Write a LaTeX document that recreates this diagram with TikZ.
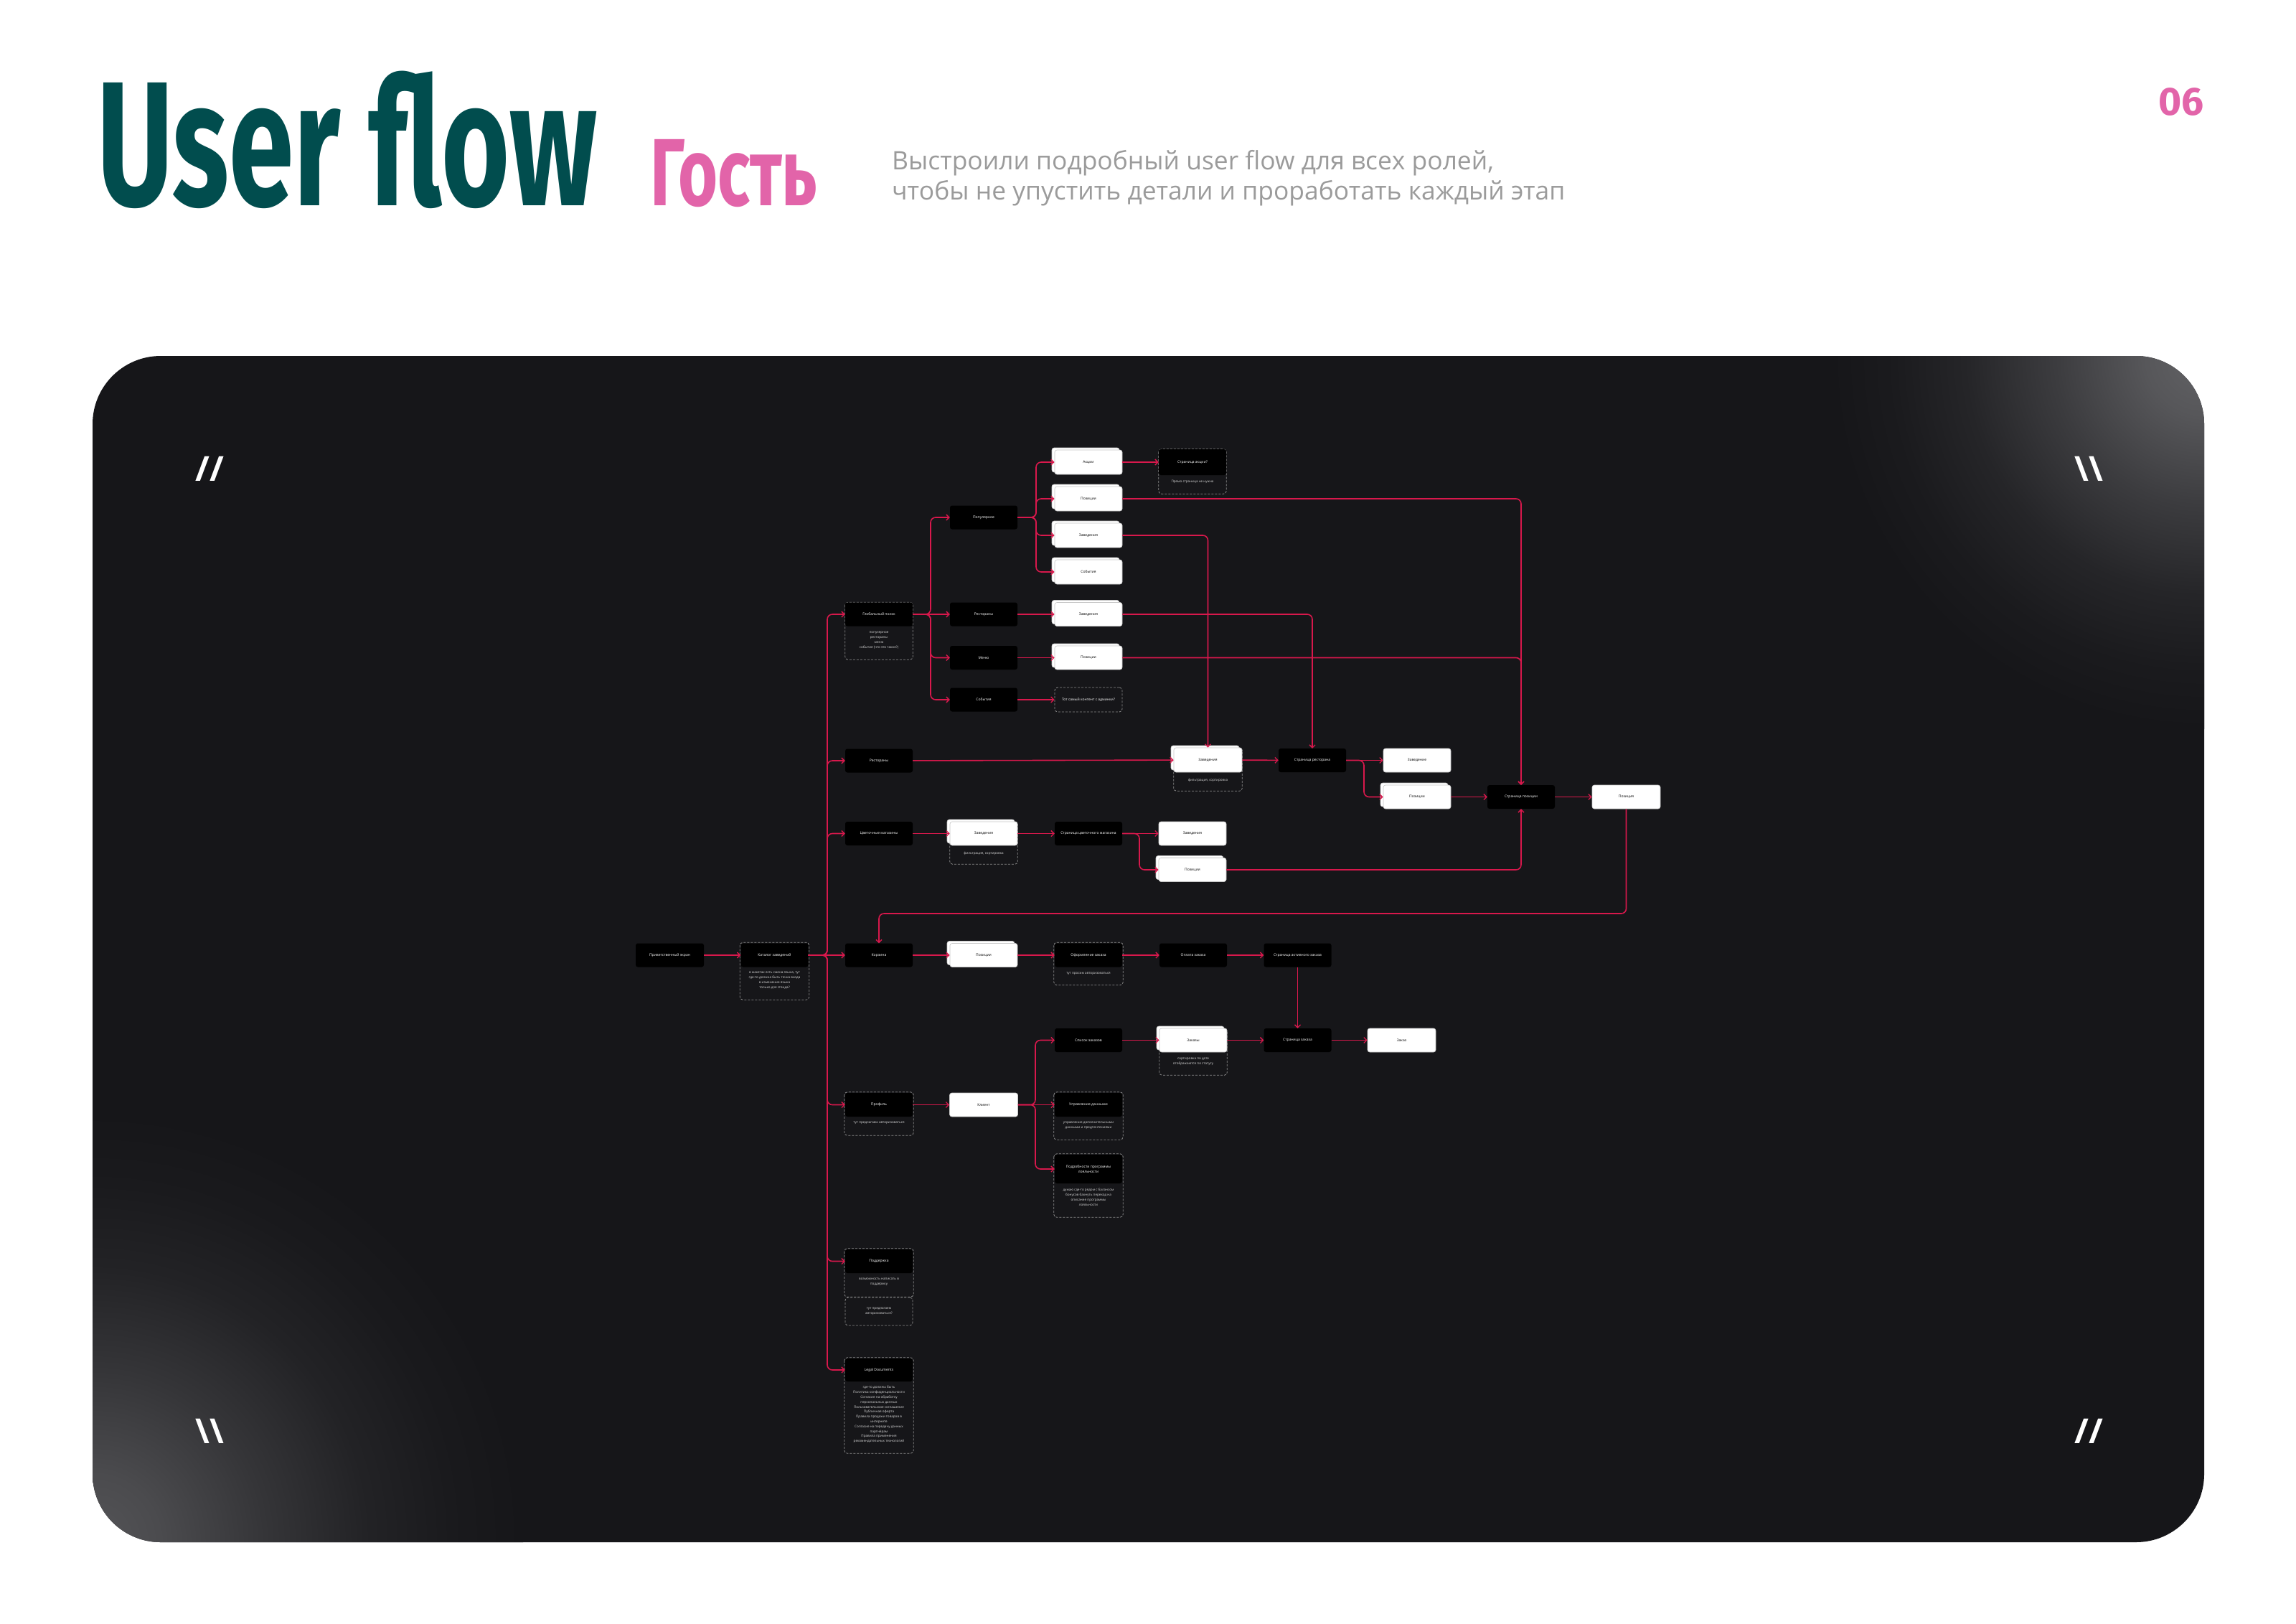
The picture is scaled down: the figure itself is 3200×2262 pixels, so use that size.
\documentclass[tikz,border=0pt]{standalone}
\usepackage{fontspec}
\setmainfont{Open Sans}
\newfontfamily\ttl{Fira Sans}
\newfontfamily\lab{Open Sans}
\usetikzlibrary{arrows.meta,shadows,calc}
\definecolor{tealc}{HTML}{014D4E}
\definecolor{pinkc}{HTML}{E264A9}
\definecolor{subc}{HTML}{9B9B9B}
\definecolor{panelc}{HTML}{161619}
\definecolor{glowc}{HTML}{626265}
\definecolor{glowd}{HTML}{545457}
\definecolor{linec}{HTML}{D8184C}
\definecolor{dashc}{HTML}{8C8C8C}
\definecolor{notec}{HTML}{DADADA}
\pgfdeclareradialshading{glowtr}{\pgfpointorigin}{color(0bp)=(glowc); color(4bp)=(glowc!85!panelc); color(10bp)=(glowc!50!panelc); color(16bp)=(glowc!20!panelc); color(21bp)=(glowc!6!panelc); color(25bp)=(panelc); color(50bp)=(panelc)}
\pgfdeclareradialshading{glowbl}{\pgfpointorigin}{color(0bp)=(glowd); color(4bp)=(glowd!85!panelc); color(10bp)=(glowd!50!panelc); color(16bp)=(glowd!20!panelc); color(21bp)=(glowd!6!panelc); color(25bp)=(panelc); color(50bp)=(panelc)}
\pgfdeclarelayer{panel}
\pgfdeclarelayer{under}
\pgfsetlayers{panel,under,main}
\begin{document}
\begin{tikzpicture}[x=1pt,y=-1pt,
  blk/.style={rectangle, rounded corners=3pt, fill=black, text=white, minimum width=94pt, minimum height=33pt, inner sep=1pt, font=\lab\fontsize{5}{7}\selectfont, align=center},
  wht/.style={blk, fill=white, text=black, draw=gray!45, line width=0.6pt},
  stk/.style={wht, general shadow={fill=white, draw=gray!45, line width=0.6pt, shadow xshift=-4pt, shadow yshift=3pt}},
  dsh/.style={draw=dashc, dash pattern=on 3pt off 2pt, line width=0.8pt, rounded corners=4pt},
  dbox/.style={blk, fill=none, dsh},
  note/.style={text=notec, font=\lab\fontsize{4.6}{7}\selectfont, align=center, inner sep=0pt, anchor=north},
  conn/.style={draw=linec, line width=1.6pt, rounded corners=7pt, -{Straight Barb[length=4pt,width=8pt,line width=1.3pt]}},
  slash/.style={text=white, font=\lab\bfseries\fontsize{48}{48}\selectfont, inner sep=0pt}
]
\useasboundingbox (0,0) rectangle (3200,2262);

% ---------- panel ----------
\begin{pgfonlayer}{panel}
\fill[white] (0,0) rectangle (3200,2262);
\fill[panelc, rounded corners=95pt] (129,496) rectangle (3072,2149);
\begin{scope}
\clip[rounded corners=95pt] (129,496) rectangle (3072,2149);
\shade[shading=glowtr] (3072,496) circle [radius=520pt];
\shade[shading=glowbl] (129,2149) circle [radius=600pt];
\end{scope}
\end{pgfonlayer}

% ---------- header ----------
\node[anchor=base west, inner sep=0pt, text=tealc, font=\ttl\bfseries\fontsize{247}{247}\selectfont] (title) at (135,286) {\scalebox{0.66}[1]{User flow}};
\node[anchor=base west, inner sep=0pt, text=pinkc, font=\ttl\bfseries\fontsize{133}{133}\selectfont] (role) at (906,286) {\scalebox{0.71}[1]{Гость}};
\node[anchor=base west, inner sep=0pt, text=subc, font=\lab\fontsize{35.4}{42}\selectfont] (sub1) at (1243,236) {Выстроили подробный user flow для всех ролей,};
\node[anchor=base west, inner sep=0pt, text=subc, font=\lab\fontsize{35.4}{42}\selectfont] (sub2) at (1243,278) {чтобы не упустить детали и проработать каждый этап};
\node[anchor=base east, inner sep=0pt, text=pinkc, font=\ttl\bfseries\fontsize{55}{55}\selectfont] (pnum) at (3072,160) {06};

\node[slash] (s1) at (292,653) {//};
\node[slash] (s2) at (2911,653) {\textbackslash\textbackslash};
\node[slash] (s3) at (292,1994) {\textbackslash\textbackslash};
\node[slash] (s4) at (2911,1994) {//};

% ---------- nodes ----------
\node[blk, minimum width=95pt] (pe) at (933.5,1331) {Приветственный экран};
\node[blk] (kat) at (1079.5,1331) {Каталог заведений};
\node[note] (katn) at ($(kat.south)+(0,6.5)$) {в макетах есть смена языка, тут\\где-то должна быть точка входа\\в изменение языка\\только для стенда?};

\node[blk] (gs) at (1225,856) {Глобальный поиск};
\node[note] (gsn) at ($(gs.south)+(0,7)$) {популярное\\рестораны\\меню\\события (что это такое?)};
\node[blk] (rest) at (1225,1060) {Рестораны};
\node[blk] (cvet) at (1225,1161.5) {Цветочные магазины};
\node[blk] (korz) at (1225,1331) {Корзина};
\node[blk] (prof) at (1225,1539.5) {Профиль};
\node[note] (profn) at ($(prof.south)+(0,7)$) {тут предлагаем авторизоваться};
\node[blk] (podd) at (1225,1757.5) {Поддержка};
\node[note] (poddn) at ($(podd.south)+(0,6.5)$) {возможность написать в\\поддержку};
\node[dbox, minimum height=39pt, text=notec, font=\lab\fontsize{4.6}{7}\selectfont] (podd2) at (1225,1827.5) {тут предлагаем\\авторизоваться?};
\node[blk, minimum height=32pt] (legal) at (1225,1909) {Legal Documents};
\node[note, font=\lab\fontsize{4.6}{6.8}\selectfont] (legaln) at ($(legal.south)+(0,6)$) {где-то должны быть\\Политика конфиденциальности\\Согласие на обработку\\персональных данных\\Пользовательское соглашение\\Публичная оферта\\Правила продажи товаров в\\интернете\\Согласие на передачу данных\\партнёрам\\Правила применения\\рекомендательных технологий};

\node[blk] (pop) at (1371,721) {Популярное};
\node[blk] (rest2) at (1371,856) {Рестораны};
\node[blk] (menu) at (1371,916.5) {Меню};
\node[blk] (sob) at (1371,975) {События};

\node[stk, minimum height=34pt] (akc) at (1517,644) {Акции};
\node[stk, minimum height=34pt] (pos1) at (1517,695) {Позиции};
\node[stk, minimum height=34pt] (zav1) at (1517,746) {Заведения};
\node[stk, minimum height=34pt] (sob2) at (1517,797) {События};
\node[stk] (zav2) at (1517,856) {Заведения};
\node[stk] (pos2) at (1517,916.5) {Позиции};
\node[dbox, minimum height=34pt] (cont) at (1517,975) {Тот самый контент с админки?};

\node[blk, minimum height=36pt] (stak) at (1662,644) {Страница акции?};
\node[note] (stakn) at ($(stak.south)+(0,7)$) {Прямо страница не нужна};

\node[stk, minimum width=95pt, minimum height=34pt] (zf) at (1683.5,1059) {Заведения};
\node[note] (zfn) at ($(zf.south)+(0,8)$) {фильтрация, сортировка};
\node[blk] (strest) at (1829,1059.5) {Страница ресторана};
\node[wht] (zaved) at (1975,1059.5) {Заведение};
\node[stk] (pos3) at (1975,1110.5) {Позиции};
\node[blk] (spos) at (2120,1110.5) {Страница позиции};
\node[wht, minimum width=95pt] (posiciya) at (2266.5,1110.5) {Позиция};

\node[stk] (zav3) at (1371,1161.5) {Заведения};
\node[note] (zav3n) at ($(zav3.south)+(0,8)$) {фильтрация, сортировка};
\node[blk] (scm) at (1517,1161.5) {Страница цветочного магазина};
\node[wht] (zav4) at (1662,1161.5) {Заведения};
\node[stk] (pos4) at (1662,1212) {Позиции};

\node[stk] (pos5) at (1371,1331) {Позиции};
\node[blk] (ofo) at (1517,1331) {Оформление заказа};
\node[note] (ofon) at ($(ofo.south)+(0,7)$) {тут просим авторизоваться};
\node[blk] (opl) at (1663,1331) {Оплата заказа};
\node[blk] (sakt) at (1808.5,1331) {Страница активного заказа};

\node[wht, minimum width=95pt] (klient) at (1371,1539.5) {Клиент};
\node[blk] (spisok) at (1517,1449.5) {Список заказов};
\node[stk] (zakazy) at (1663,1449.5) {Заказы};
\node[note] (zakazyn) at ($(zakazy.south)+(0,7)$) {сортировка по дате\\отображаются по статусу};
\node[blk] (szak) at (1808.5,1449.5) {Страница заказа};
\node[wht, minimum width=95pt] (zakaz) at (1953.5,1449.5) {Заказ};
\node[blk] (upr) at (1517,1539.5) {Управление данными};
\node[note] (uprn) at ($(upr.south)+(0,7)$) {управление дополнительными\\данными и предпочтениями};
\node[blk, minimum height=40pt] (podr) at (1517,1629) {Подробности программы\\лояльности};
\node[note] (podrn) at ($(podr.south)+(0,7)$) {думаю где-то рядом с балансом\\бонусов бахнуть переход на\\описание программы\\лояльности};

% ---------- dashed frames ----------
\begin{pgfonlayer}{under}
\draw[dsh] (gs.north west) rectangle ($(gs.south east)+(0,46.5)$);
\draw[dsh] (stak.north west) rectangle ($(stak.south east)+(0,26)$);
\draw[dsh] (zf.north west) rectangle ($(zf.south east)+(0,26)$);
\draw[dsh] (zav3.north west) rectangle ($(zav3.south east)+(0,26)$);
\draw[dsh] (zakazy.north west) rectangle ($(zakazy.south east)+(0,32)$);
\end{pgfonlayer}
\draw[dsh] ([shift={(-1,-1)}]kat.north west) rectangle ($(kat.south east)+(1,45.5)$);
\draw[dsh] ([shift={(-1,-1)}]prof.north west) rectangle ($(prof.south east)+(1,26)$);
\draw[dsh] ([shift={(-1,-1)}]podd.north west) rectangle ($(podd.south east)+(1,33)$);
\draw[dsh] ([shift={(-1,-1)}]ofo.north west) rectangle ($(ofo.south east)+(1,25)$);
\draw[dsh] ([shift={(-1,-1)}]upr.north west) rectangle ($(upr.south east)+(1,32)$);
\draw[dsh] ([shift={(-1,-1)}]podr.north west) rectangle ($(podr.south east)+(1,47)$);
\draw[dsh] ([shift={(-1,-1)}]legal.north west) rectangle ($(legal.south east)+(1,100)$);

% ---------- junctions ----------
\coordinate (spj) at (1153,1331);
\coordinate (gsj) at (1297,856);
\coordinate (popj) at (1444,721);
\coordinate (rj) at (1901,1059.5);
\coordinate (cj) at (1588,1161.5);
\coordinate (kj) at (1443,1539.5);
\coordinate (ret) at (2266.5,1273);

% ---------- connectors ----------
\draw[conn] (pe) -- (kat);
\draw[conn] (kat.east) -- (korz.west);
\draw[conn] (kat.east) -- (spj) |- (gs.west);
\draw[conn] (kat.east) -- (spj) |- (rest.west);
\draw[conn] (kat.east) -- (spj) |- (cvet.west);
\draw[conn] (kat.east) -- (spj) |- (prof.west);
\draw[conn] (kat.east) -- (spj) |- (podd.west);
\draw[conn] (kat.east) -- (spj) |- (legal.west);

\draw[conn] (gs.east) -- (rest2.west);
\draw[conn] (gs.east) -- (gsj) |- (pop.west);
\draw[conn] (gs.east) -- (gsj) |- (menu.west);
\draw[conn] (gs.east) -- (gsj) |- (sob.west);

\draw[conn] (pop.east) -- (popj) |- (akc.west);
\draw[conn] (pop.east) -- (popj) |- (pos1.west);
\draw[conn] (pop.east) -- (popj) |- (zav1.west);
\draw[conn] (pop.east) -- (popj) |- (sob2.west);
\draw[conn] (rest2) -- (zav2);
\draw[conn] (menu) -- (pos2);
\draw[conn] (sob) -- (cont);
\draw[conn] (akc) -- (stak);

\draw[conn] (pos1.east) -| (spos.north);
\draw[conn] (zav1.east) -| (zf.north);
\draw[conn] (zav2.east) -| (strest.north);
\draw[conn] (pos2.east) -| (spos.north);

\draw[conn] (rest) -- (zf);
\draw[conn] (zf) -- (strest);
\draw[conn] (strest.east) -- (zaved.west);
\draw[conn] (strest.east) -- (rj) |- (pos3.west);
\draw[conn] (pos3) -- (spos);
\draw[conn] (spos) -- (posiciya);
\draw[conn] (posiciya.south) -- (ret) -| (korz.north);

\draw[conn] (cvet) -- (zav3);
\draw[conn] (zav3) -- (scm);
\draw[conn] (scm.east) -- (zav4.west);
\draw[conn] (scm.east) -- (cj) |- (pos4.west);
\draw[conn] (pos4.east) -| (spos.south);

\draw[conn] (korz) -- (pos5);
\draw[conn] (pos5) -- (ofo);
\draw[conn] (ofo) -- (opl);
\draw[conn] (opl) -- (sakt);
\draw[conn] (sakt) -- (szak);

\draw[conn] (prof) -- (klient);
\draw[conn] (klient.east) -- (upr.west);
\draw[conn] (klient.east) -- (kj) |- (spisok.west);
\draw[conn] (klient.east) -- (kj) |- (podr.west);
\draw[conn] (spisok) -- (zakazy);
\draw[conn] (zakazy) -- (szak);
\draw[conn] (szak) -- (zakaz);
\end{tikzpicture}
\end{document}
